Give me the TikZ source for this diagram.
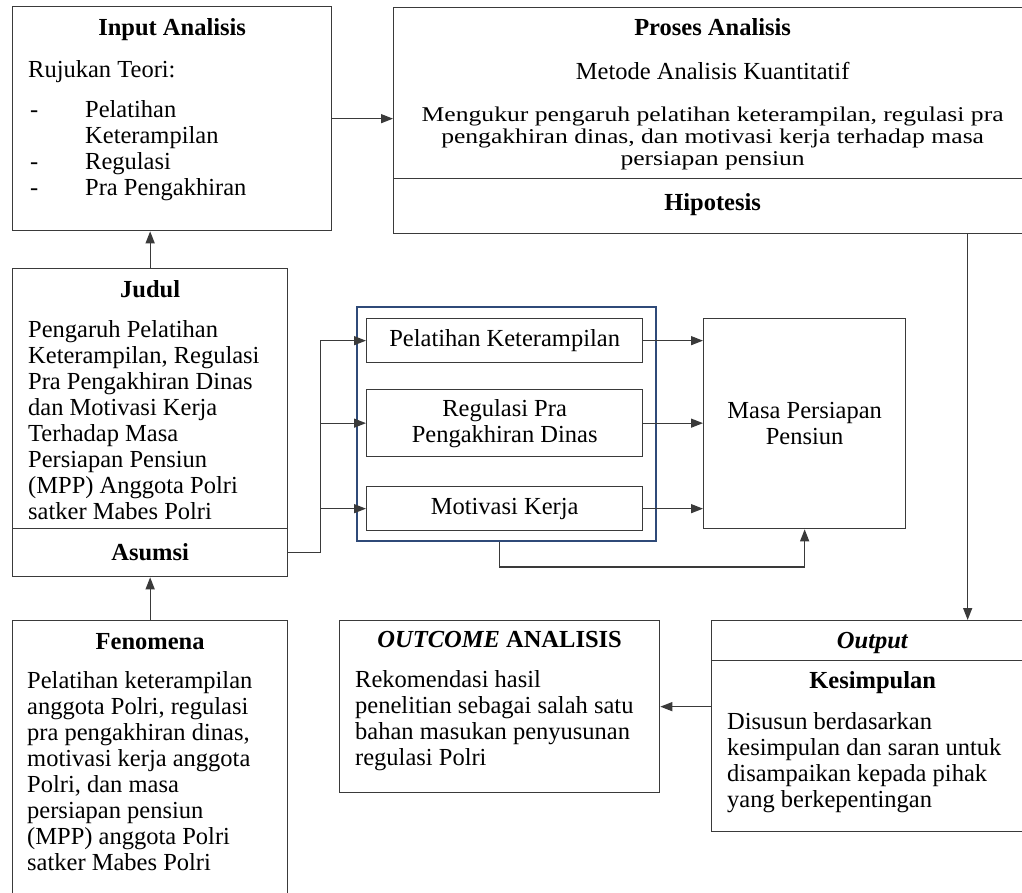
\documentclass[tikz,border=0pt]{standalone}
\usepackage{fontspec}
\setmainfont{Liberation Serif}
\newfontfamily\widefont[FakeStretch=1.22]{Liberation Serif}
\usetikzlibrary{arrows.meta, positioning}
\definecolor{boxline}{HTML}{3A3A3A}
\definecolor{navy}{HTML}{2F4A78}
\newcommand\tightlines{\widefont\fontsize{21}{21.8}\selectfont}

\begin{document}
\begin{tikzpicture}[
    x=1pt, y=-1pt,
    box/.style={rectangle, draw=boxline, line width=1.3pt, fill=white,
                inner sep=0pt, anchor=north west, align=center,
                font=\fontsize{24.5}{26}\selectfont},
    varbox/.style={rectangle, draw=navy, line width=2pt, inner sep=0pt,
                   anchor=north west},
    head/.style={inner sep=0pt, text height=17pt, text depth=6pt,
                 font=\fontsize{24.5}{26}\selectfont\bfseries},
    body/.style={inner sep=0pt, align=left,
                 font=\fontsize{24.5}{26}\selectfont},
    bodyc/.style={body, align=center},
    link/.style={-{Triangle[length=12pt, width=9pt]}, line width=1.3pt, draw=boxline},
]
\useasboundingbox (0,0) rectangle (1022,892);
\clip (0,0) rectangle (1022,892);

% Input analisis
\node[box, minimum width=319pt, minimum height=224pt] (input) at (12,6) {};
\node[head, below=12pt of input.north] (inputhd) {Input Analisis};
\node[body, below right=54pt and 16pt of input.north west] (rujukan) {Rujukan Teori:};
\node[body, below right=94pt and 18pt of input.north west] (teori)
     {\makebox[55pt][l]{-}Pelatihan\\ \hspace*{55pt}Keterampilan\\
      \makebox[55pt][l]{-}Regulasi\\ \makebox[55pt][l]{-}Pra Pengakhiran};

% Proses analisis + hipotesis
\node[box, minimum width=638pt, minimum height=171pt] (proses) at (393,7) {};
\node[head, below=11pt of proses.north] (proseshd) {Proses Analisis};
\node[bodyc, below=55pt of proses.north] (metode) {Metode Analisis Kuantitatif};
\node[bodyc, below=100pt of proses.north, font=\tightlines] (ukur)
     {Mengukur pengaruh pelatihan keterampilan, regulasi pra\\
      pengakhiran dinas, dan motivasi kerja terhadap masa\\
      persiapan pensiun};
\node[box, minimum width=638pt, minimum height=55pt] (hipotesis) at (393,178) {};
\node[head, below=15pt of hipotesis.north] (hipotesishd) {Hipotesis};

% Judul + asumsi
\node[box, minimum width=275pt, minimum height=260pt] (judul) at (12,268) {};
\node[head, below=12pt of judul.north] (judulhd) {Judul};
\node[body, below right=52pt and 16pt of judul.north west] (judultxt)
     {Pengaruh Pelatihan\\ Keterampilan, Regulasi\\ Pra Pengakhiran Dinas\\
      dan Motivasi Kerja\\ Terhadap Masa\\ Persiapan Pensiun\\
      (MPP) Anggota Polri\\ satker Mabes Polri};
\node[box, minimum width=275pt, minimum height=48pt] (asumsi) at (12,528) {};
\node[head, below=15pt of asumsi.north] (asumsihd) {Asumsi};

% Fenomena
\node[box, minimum width=275pt, minimum height=300pt] (fenomena) at (12,620) {};
\node[head, below=12pt of fenomena.north] (fenomenahd) {Fenomena};
\node[body, below right=51pt and 15pt of fenomena.north west] (fenomenatxt)
     {Pelatihan keterampilan\\ anggota Polri, regulasi\\ pra pengakhiran dinas,\\
      motivasi kerja anggota\\ Polri, dan masa\\ persiapan pensiun\\
      (MPP) anggota Polri\\ satker Mabes Polri};

% Variabel
\node[varbox, minimum width=299pt, minimum height=234pt] (variabel) at (356,306) {};
\node[box, minimum width=276pt, minimum height=44pt] (pelatihan) at (366,318) {Pelatihan Keterampilan};
\node[box, minimum width=276pt, minimum height=67pt] (regulasi) at (366,389) {Regulasi Pra\\ Pengakhiran Dinas};
\node[box, minimum width=276pt, minimum height=44pt] (motivasi) at (366,486) {Motivasi Kerja};
\node[box, minimum width=202pt, minimum height=210pt] (masa) at (703,318) {Masa Persiapan\\ Pensiun};

% Outcome + output
\node[box, minimum width=320pt, minimum height=172pt] (outcome) at (339,620) {};
\node[head, below=10pt of outcome.north] (outcomehd) {\textit{OUTCOME} ANALISIS};
\node[body, below right=50pt and 16pt of outcome.north west] (outcometxt)
     {Rekomendasi hasil\\ penelitian sebagai salah satu\\
      bahan masukan penyusunan\\ regulasi Polri};
\node[box, minimum width=322pt, minimum height=40pt] (output) at (711,620) {};
\node[head, below=11pt of output.north] (outputhd) {\textit{Output}};
\node[box, minimum width=322pt, minimum height=171pt] (kesimpulan) at (711,660) {};
\node[head, below=11pt of kesimpulan.north] (kesimpulanhd) {Kesimpulan};
\node[body, below right=52pt and 16pt of kesimpulan.north west] (kesimpulantxt)
     {Disusun berdasarkan\\ kesimpulan dan saran untuk\\
      disampaikan kepada pihak\\ yang berkepentingan};

% Connectors
\coordinate (split) at ([xshift=32pt]asumsi.east);
\draw[link] (input.east) -- (input.east -| proses.west);
\draw[link] (judul.north) -- (input.south -| judul.north);
\draw[link] (fenomena.north) -- (asumsi.south -| fenomena.north);
\draw[line width=1.3pt, draw=boxline] (asumsi.east) -- (split);
\draw[link] (split) |- (pelatihan.west);
\draw[link] (split) |- (regulasi.west);
\draw[link] (split) |- (motivasi.west);
\draw[link] (pelatihan.east) -- (pelatihan.east -| masa.west);
\draw[link] (regulasi.east) -- (regulasi.east -| masa.west);
\draw[link] (motivasi.east) -- (motivasi.east -| masa.west);
\draw[link] ([xshift=-7pt]variabel.south) -- ++(0,25) -| (masa.south);
\draw[link] ([xshift=255pt]hipotesis.south) -- ([xshift=255pt]hipotesis.south |- output.north);
\draw[link] (kesimpulan.west |- outcome.east) -- (outcome.east);

\end{tikzpicture}
\end{document}
